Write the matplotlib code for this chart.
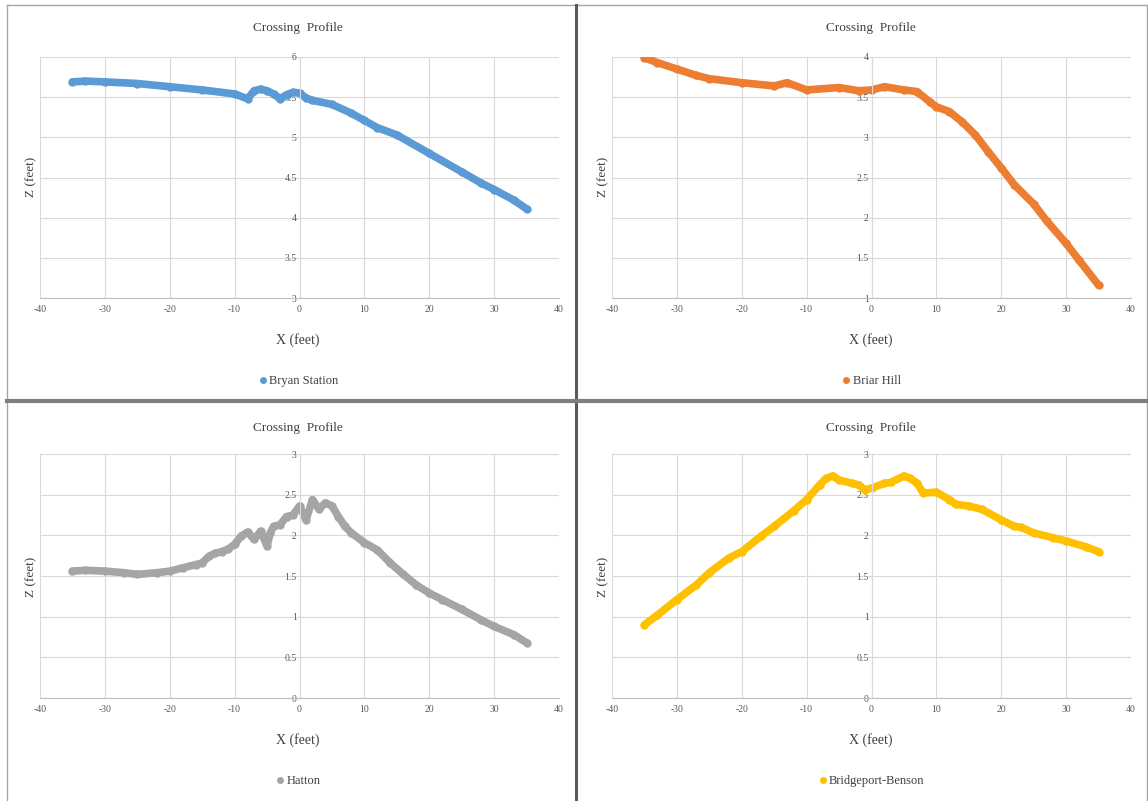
import matplotlib.pyplot as plt
from matplotlib.lines import Line2D

# ---- data ----
bryan_x = [-35, -33, -30, -25, -20, -15, -10, -8, -7, -6, -5, -4, -3, -2, -1, 0,
           1, 2, 5, 8, 10, 12, 15, 20, 25, 28, 30, 33, 35]
bryan_z = [5.69, 5.70, 5.69, 5.67, 5.63, 5.59, 5.54, 5.48, 5.58, 5.60, 5.58, 5.54,
           5.48, 5.53, 5.56, 5.55, 5.49, 5.46, 5.41, 5.30, 5.21, 5.12, 5.03, 4.80,
           4.57, 4.43, 4.35, 4.22, 4.11]

briar_x = [-35, -33, -30, -27, -25, -20, -15, -13, -10, -5, -2, 0, 2, 5, 7, 9, 10,
           12, 14, 16, 18, 20, 22, 25, 27, 30, 32, 35]
briar_z = [3.99, 3.93, 3.85, 3.77, 3.73, 3.68, 3.64, 3.68, 3.59, 3.62, 3.58, 3.59,
           3.63, 3.59, 3.57, 3.44, 3.38, 3.32, 3.19, 3.03, 2.82, 2.62, 2.41, 2.17,
           1.96, 1.68, 1.47, 1.16]

hatton_x = [-35, -33, -30, -27, -25, -22, -20, -18, -16, -15, -14, -13, -12, -11,
            -10, -9, -8, -7, -6, -5, -4.5, -4, -3, -2, -1, 0, 1, 2, 3, 4, 5, 6, 7,
            8, 10, 12, 14, 16, 18, 20, 22, 25, 28, 30, 33, 35]
hatton_z = [1.56, 1.57, 1.56, 1.54, 1.52, 1.54, 1.56, 1.60, 1.64, 1.66, 1.74, 1.78,
            1.80, 1.83, 1.89, 1.99, 2.04, 1.95, 2.05, 1.87, 2.03, 2.11, 2.13, 2.23,
            2.25, 2.36, 2.19, 2.44, 2.32, 2.40, 2.36, 2.23, 2.11, 2.03, 1.91, 1.82,
            1.66, 1.52, 1.39, 1.29, 1.21, 1.09, 0.96, 0.88, 0.78, 0.68]

bridge_x = [-35, -33, -30, -27, -25, -22, -20, -17, -15, -12, -10, -8, -7, -6, -5,
            -3, -2, -1, 0, 2, 3, 5, 6, 7, 8, 10, 12, 13, 15, 17, 20, 22, 23, 25,
            28, 30, 33, 35]
bridge_z = [0.90, 1.02, 1.21, 1.39, 1.54, 1.72, 1.80, 1.99, 2.11, 2.30, 2.44, 2.62,
            2.70, 2.73, 2.68, 2.64, 2.62, 2.56, 2.58, 2.64, 2.65, 2.73, 2.70, 2.64,
            2.52, 2.53, 2.44, 2.38, 2.36, 2.32, 2.19, 2.11, 2.10, 2.03, 1.97, 1.93,
            1.86, 1.80]

panels = [
    ("Bryan Station", bryan_x, bryan_z, "#5B9BD5", (3, 6)),
    ("Briar Hill", briar_x, briar_z, "#ED7D31", (1, 4)),
    ("Hatton", hatton_x, hatton_z, "#A5A5A5", (0, 3)),
    ("Bridgeport-Benson", bridge_x, bridge_z, "#FFC000", (0, 3)),
]
x_ticks = [-40, -30, -20, -10, 0, 10, 20, 30, 40]

W, H = 1148, 801
plt.rcParams['font.family'] = ['Liberation Serif', 'DejaVu Serif']
plt.rcParams['axes.unicode_minus'] = False
fig = plt.figure(figsize=(W / 100, H / 100), dpi=100)

# pixel boxes of the plot areas: left, right, top, bottom
boxes = [(40, 559, 57, 298), (612, 1131, 57, 298),
         (40, 559, 454, 698), (612, 1131, 454, 698)]
label_x = [31, 603, 31, 603]
panel_top = [0, 0, 400, 400]
centers = [298, 871, 298, 871]

for i, (name, xs, zs, col, ylim) in enumerate(panels):
    l, r, t, b = boxes[i]
    ax = fig.add_axes([l / W, 1 - b / H, (r - l) / W, (b - t) / H])
    ax.plot(xs, zs, '-o', color=col, lw=5.5, ms=5, solid_capstyle='round',
            solid_joinstyle='round')
    ax.set_xlim(-40, 40)
    ax.set_ylim(*ylim)
    yt = [ylim[0] + 0.5 * k for k in range(7)]
    ax.set_xticks(x_ticks)
    ax.set_yticks(yt)
    ax.set_yticklabels([f"{v:g}" for v in yt])
    ax.grid(True, color='#D9D9D9', lw=0.8)
    ax.set_axisbelow(True)
    for s in ['top', 'right']:
        ax.spines[s].set_visible(False)
    ax.spines['left'].set_position(('data', 0))
    ax.spines['left'].set_color('#D9D9D9')
    ax.spines['bottom'].set_color('#BFBFBF')
    ax.tick_params(length=0, labelsize=7, colors='#595959', pad=5)
    ax.tick_params(axis='y', pad=2)

    top = panel_top[i]
    fig.text(centers[i] / W, 1 - (top + 28) / H, "Crossing  Profile",
             ha='center', va='center', fontsize=9.5, color='#404040')
    fig.text(centers[i] / W, 1 - (top + 340) / H, "X (feet)",
             ha='center', va='center', fontsize=10, color='#404040')
    fig.text(label_x[i] / W, 1 - (top + 177) / H, "Z (feet)", rotation=90,
             ha='center', va='center', fontsize=9.5, color='#404040')
    h = Line2D([], [], marker='o', ls='', color=col, ms=4)
    fig.legend([h], [name], loc='center',
               bbox_to_anchor=(centers[i] / W, 1 - (top + 381) / H),
               frameon=False, fontsize=9, handletextpad=0.1,
               handlelength=0.8, labelcolor='#404040')

# panel borders
def hline(y, x0, x1, c, lw):
    fig.add_artist(Line2D([x0 / W, x1 / W], [1 - y / H, 1 - y / H], color=c, lw=lw))

def vline(x, y0, y1, c, lw):
    fig.add_artist(Line2D([x / W, x / W], [1 - y0 / H, 1 - y1 / H], color=c, lw=lw))

hline(5, 7, 1147, '#A6A6A6', 1.0)
vline(7, 5, 801, '#A6A6A6', 1.0)
vline(1146.5, 5, 801, '#A6A6A6', 1.0)
vline(576, 5, 801, '#595959', 2.2)
hline(400.5, 7, 1147, '#7F7F7F', 3.0)

fig.savefig("out.png", dpi=100)
